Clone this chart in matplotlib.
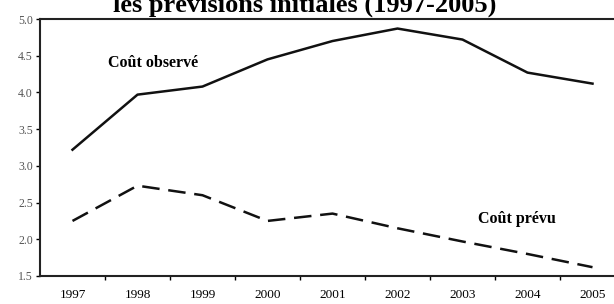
import matplotlib.pyplot as plt

plt.rcParams['font.family'] = ['Liberation Serif', 'DejaVu Serif']

# Data
annees = ['1997', '1998', '1999', '2000', '2001', '2002', '2003', '2004', '2005']
cout_observe = [3.22, 3.97, 4.08, 4.45, 4.70, 4.87, 4.72, 4.27, 4.12]
cout_prevu = [2.25, 2.73, 2.60, 2.25, 2.35, 2.15, 1.97, 1.80, 1.62]
y_ticks = [1.5, 2.0, 2.5, 3.0, 3.5, 4.0, 4.5, 5.0]

fig = plt.figure(figsize=(6.14, 3.04), dpi=100)
# axes runs past the right edge, as in the cropped original
ax = fig.add_axes([40 / 614, 1 - 276 / 304, 585 / 614, 257 / 304])

x = list(range(len(annees)))
ax.plot(x, cout_observe, color='#111111', linewidth=1.8)
ax.plot(x, cout_prevu, color='#111111', linewidth=1.8, dashes=(7, 3.5))

ax.set_xlim(-0.5, len(annees) - 0.5)
ax.set_ylim(1.5, 5.0)

# year labels centred on each point, ticks between categories
ax.set_xticks(x)
ax.set_xticklabels(annees, fontsize=9.5)
ax.set_xticks([i + 0.5 for i in x[:-1]], minor=True)
ax.tick_params(axis='x', which='major', length=0, pad=9)
ax.tick_params(axis='x', which='minor', length=3, width=1, direction='out')

ax.set_yticks(y_ticks)
ax.set_yticklabels(['%.1f' % v for v in y_ticks], fontsize=8.5, color='#555555')
ax.tick_params(axis='y', length=3, width=1, direction='out', pad=2)

for side in ['left', 'bottom', 'top', 'right']:
    ax.spines[side].set_linewidth(1.5)
    ax.spines[side].set_color('#222222')

ax.text(0.55, 4.4, 'Coût observé', fontsize=11.5, fontweight='bold', va='center')
ax.text(6.24, 2.27, 'Coût prévu', fontsize=11.5, fontweight='bold', va='center')

# the original title is cropped at the top of the image
fig.text(305 / 614, 1 - 12 / 304, 'les prévisions initiales (1997-2005)',
         ha='center', va='baseline', fontsize=19, fontweight='bold')

fig.savefig('out.png', dpi=100)
